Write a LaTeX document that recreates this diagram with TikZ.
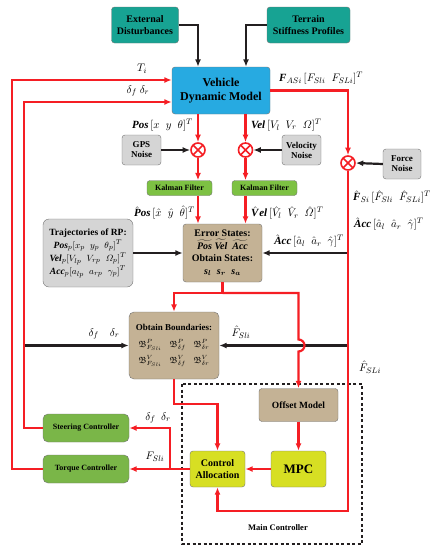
\documentclass[tikz,border=0pt]{standalone}
\usepackage{amsmath, amssymb}
\usepackage{fontspec}
\setmainfont{Liberation Serif}
\usetikzlibrary{arrows.meta, positioning}
\definecolor{sig-red}{HTML}{F51E24}
\definecolor{dist-teal}{HTML}{17A393}
\definecolor{model-blue}{HTML}{27AAE1}
\definecolor{noise-gray}{HTML}{D5D5D5}
\definecolor{kf-green}{HTML}{7DC143}
\definecolor{ctrl-green}{HTML}{7AB648}
\definecolor{state-tan}{HTML}{C4B295}
\definecolor{mpc-yellow}{HTML}{D7DF23}
\definecolor{jet}{HTML}{231F20}
\newcommand{\bitx}[1]{\textbf{\textit{#1}}}

\begin{document}
\begin{tikzpicture}[x=1pt, y=-1pt, >={Latex[length=7.5pt,width=6pt]},
      every node/.style={font=\small},
      blk/.style={draw=black!55, rounded corners=3pt, align=center, inner sep=0pt,
                  font=\bfseries\fontsize{9}{10}\selectfont},
      sig/.style={sig-red, line width=2.2pt},
      feed/.style={jet, line width=2.2pt},
      sum/.style={circle, draw=sig-red, fill=white, line width=1.6pt, minimum size=14pt, inner sep=0pt,
                  path picture={\draw[sig-red, line width=1.6pt]
                    (path picture bounding box.north west) -- (path picture bounding box.south east)
                    (path picture bounding box.north east) -- (path picture bounding box.south west);}},
      lbl/.style={inner sep=0pt, font=\fontsize{11}{12}\selectfont}]
    \useasboundingbox (0,0) rectangle (431,550);
    \node[blk, fill=dist-teal, minimum width=67pt, minimum height=36pt,
          font=\bfseries\fontsize{10}{11.5}\selectfont] (ext) at (145,25) {External\\Disturbances};
    \node[blk, fill=dist-teal, minimum width=83pt, minimum height=36pt,
          font=\bfseries\fontsize{10}{11.5}\selectfont] (ter) at (308.5,25) {Terrain\\Stiffness Profiles};
    \node[blk, fill=model-blue, minimum width=98pt, minimum height=47pt,
          font=\bfseries\fontsize{12}{14.5}\selectfont] (veh) at (221,90.5) {Vehicle\\Dynamic Model};
    \node[blk, fill=noise-gray, minimum width=39pt, minimum height=30pt] (gps) at (141.5,150) {GPS\\Noise};
    \node[blk, fill=noise-gray, minimum width=39pt, minimum height=30pt] (vnoise) at (301.5,150) {Velocity\\Noise};
    \node[blk, fill=noise-gray, minimum width=38pt, minimum height=30pt] (fnoise) at (402,164) {Force\\Noise};
    \node[sum] (sumP) at (198,150) {};
    \node[sum] (sumV) at (245.5,150) {};
    \node[sum] (sumF) at (348,163) {};
    \node[blk, fill=kf-green, minimum width=65pt, minimum height=15pt,
          font=\bfseries\fontsize{8}{9}\selectfont] (kfP) at (179.5,188) {Kalman Filter};
    \node[blk, fill=kf-green, minimum width=65pt, minimum height=15pt,
          font=\bfseries\fontsize{8}{9}\selectfont] (kfV) at (264.5,188) {Kalman Filter};
    \node[blk, fill=noise-gray, minimum width=90pt, minimum height=68pt, rounded corners=6pt,
          font=\fontsize{9.5}{13}\selectfont] (traj) at (88,253)
          {\textbf{Trajectories of RP:}\\
           $\bitx{Pos}_p[x_p\;\; y_p\;\; \theta_p]^T$\\
           $\bitx{Vel}_p[V_{lp}\;\; V_{rp}\;\; \varOmega_p]^T$\\
           $\bitx{Acc}_p[a_{lp}\;\; a_{rp}\;\; \gamma_p]^T$};
    \node[blk, fill=state-tan, minimum width=79pt, minimum height=58pt,
          font=\bfseries\fontsize{10}{12.5}\selectfont] (err) at (222.5,253)
          {Error States:\\
           $\widetilde{\bitx{Pos}}\ \widetilde{\bitx{Vel}}\ \ \widetilde{\bitx{Acc}}$\\
           Obtain States:\\
           $\bitx{s}_{\boldsymbol{l}}\;\; \bitx{s}_{\boldsymbol{r}}\;\; \bitx{s}_{\boldsymbol{a}}$};
    \node[blk, fill=state-tan, minimum width=90pt, minimum height=67pt, rounded corners=5pt,
          font=\fontsize{9}{12}\selectfont] (bnd) at (174,345.5)
          {\textbf{Obtain Boundaries:}\\[5pt]
           $\mathfrak{B}^P_{F_{Sli}}\;\;\; \mathfrak{B}^P_{\delta f}\;\;\; \mathfrak{B}^P_{\delta r}$\\[4pt]
           $\mathfrak{B}^V_{F_{Sli}}\;\;\; \mathfrak{B}^V_{\delta f}\;\;\; \mathfrak{B}^V_{\delta r}$};
    \node[blk, fill=state-tan, minimum width=79pt, minimum height=33pt,
          font=\bfseries\fontsize{9.5}{11}\selectfont] (off) at (298.5,405) {Offset Model};
    \node[blk, fill=mpc-yellow, minimum width=55pt, minimum height=36pt,
          font=\bfseries\fontsize{13}{15}\selectfont] (mpc) at (298.5,469) {MPC};
    \node[blk, fill=mpc-yellow, minimum width=55pt, minimum height=36pt,
          font=\bfseries\fontsize{10}{12.5}\selectfont] (ca) at (217.5,469) {Control\\Allocation};
    \node[blk, fill=ctrl-green, minimum width=86pt, minimum height=28pt, rounded corners=5pt,
          font=\bfseries\fontsize{8}{9}\selectfont] (steer) at (86,428) {Steering Controller};
    \node[blk, fill=ctrl-green, minimum width=86pt, minimum height=28pt, rounded corners=5pt,
          font=\bfseries\fontsize{8}{9}\selectfont] (torq) at (86,469) {Torque Controller};
    \draw[jet, line width=1.4pt, dash pattern=on 3pt off 2.5pt] (182,384) rectangle (362,544);
    \node[font=\bfseries\fontsize{8.5}{10}\selectfont] (mainlbl) at (278,528) {Main Controller};
    \coordinate (lftA) at (12,300);
    \coordinate (lftB) at (24,300);
    \coordinate (fbot) at (348,511);
    \coordinate (split) at (222.5,293);
    \coordinate (br) at (170,469);
    \coordinate (hop) at (298.5,339.5);
    \draw[feed, ->] (ext.east) -| ([xshift=-23pt]veh.north);
    \draw[feed, ->] (ter.west) -| ([xshift=25pt]veh.north);
    \draw[sig, ->] (veh.south -| sumP) -- (sumP.north);
    \draw[sig, ->] (veh.south -| sumV) -- (sumV.north);
    \draw[sig, ->] (veh.east) -| (sumF.north);
    \draw[feed, ->] (gps.east) -- (sumP.west);
    \draw[feed, ->] (vnoise.west) -- (sumV.east);
    \draw[feed, ->] (fnoise.west) -- (sumF.east);
    \draw[sig, ->] (sumP.south) -- (sumP |- kfP.north);
    \draw[sig, ->] (sumV.south) -- (sumV |- kfV.north);
    \draw[sig, ->] (kfP.south -| sumP) -- (err.north -| sumP);
    \draw[sig, ->] (kfV.south -| sumV) -- (err.north -| sumV);
    \draw[feed, ->] (traj.east) -- (err.west);
    \draw[feed, ->] (err.east -| sumF) -- (err.east);
    \draw[feed, ->] (bnd.east -| sumF) -- (bnd.east);
    \draw[feed, ->] (bnd.west -| lftB) -- (bnd.west);
    \draw[sig, ->] (sumF.south) -- (fbot) -| (ca.south);
    \draw[sig, ->] (err.south) -- (split) -| (bnd.north);
    \draw[sig, ->] (split) -| (hop) arc(-90:90:6) -- (off.north);
    \draw[sig, ->] (bnd.south) -- ++(0,25) -| (ca.north);
    \draw[sig, ->] (off.south) -- (mpc.north);
    \draw[sig, ->] (mpc.west) -- (ca.east);
    \draw[sig, ->] (ca.west) -- (torq.east);
    \draw[sig, ->] (br) |- (steer.east);
    \draw[sig, ->] (torq.west) -| (lftA) |- ([yshift=10.5pt]veh.west);
    \draw[sig, ->] (steer.west) -| (lftB) |- ([yshift=-11.5pt]veh.west);
    \node[lbl] (lTi) at (142,69) {$T_i$};
    \node[lbl] (lDv) at (138,91) {$\delta_f\ \delta_r$};
    \node[lbl, anchor=west] (lF) at (279,78) {$\bitx{F}_{ASi}\,[F_{Sli}\;\;F_{SLi}]^T$};
    \node[lbl, anchor=east] (lPos) at (193,125) {$\bitx{Pos}\,[x\;\;y\;\;\theta]^T$};
    \node[lbl, anchor=west] (lVel) at (251,125) {$\bitx{Vel}\,[V_l\;\;V_r\;\;\varOmega]^T$};
    \node[lbl, anchor=east] (lPosH) at (195,213) {$\hat{\bitx{P}}\bitx{os}\,[\hat{x}\;\;\hat{y}\;\;\hat{\theta}]^T$};
    \node[lbl, anchor=west] (lVelH) at (251,213) {$\hat{\bitx{V}}\bitx{el}\,[\hat{V}_l\;\;\hat{V}_r\;\;\hat{\varOmega}]^T$};
    \node[lbl, anchor=west] (lFh) at (353,197) {$\hat{\bitx{F}}_{Si}\,[\hat{F}_{Sli}\;\;\hat{F}_{SLi}]^T$};
    \node[lbl, anchor=west] (lAh) at (354,224) {$\hat{\bitx{A}}\bitx{cc}\,[\hat{a}_l\;\;\hat{a}_r\;\;\hat{\gamma}]^T$};
    \node[lbl] (lAcc) at (309,241) {$\hat{\bitx{A}}\bitx{cc}\,[\hat{a}_l\;\;\hat{a}_r\;\;\hat{\gamma}]^T$};
    \node[lbl] (lDb) at (104,334) {$\delta_f\quad\delta_r$};
    \node[lbl] (lFs) at (241,332) {$\hat{F}_{Sli}$};
    \node[lbl] (lFL) at (370,367) {$\hat{F}_{SLi}$};
    \node[lbl] (lDs) at (158,418) {$\delta_f\ \ \delta_r$};
    \node[lbl] (lFsc) at (155,457) {$F_{Sli}$};
\end{tikzpicture}
\end{document}
